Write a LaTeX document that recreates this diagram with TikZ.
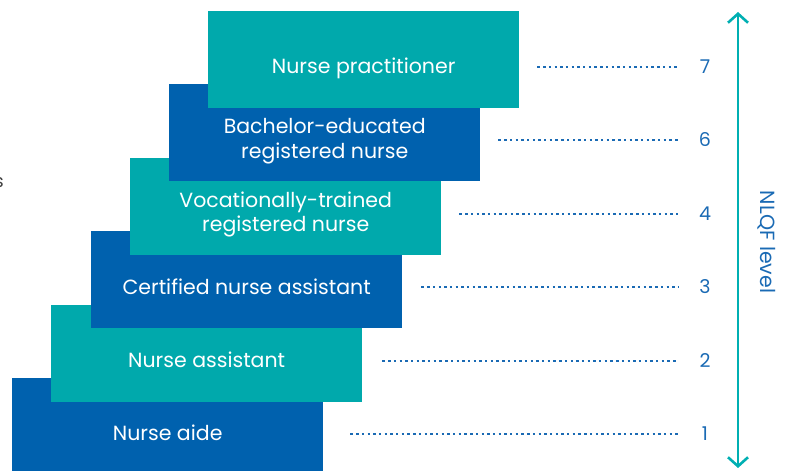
\documentclass[tikz,border=0pt]{standalone}
\usepackage{fontspec}
\setmainfont{Poppins}
\usetikzlibrary{arrows.meta}
\definecolor{tealc}{HTML}{00A9AC}
\definecolor{bluec}{HTML}{0061AE}
\definecolor{numc}{HTML}{1A6AB4}
\definecolor{arrc}{HTML}{00AFB2}
\tikzset{
  stairbox/.style={fill=#1, draw=none, minimum width=311pt, minimum height=97pt, inner sep=0pt, anchor=north west},
  boxtext/.style={text=white, align=center, font=\fontsize{20.5}{24.5}\selectfont, inner sep=0pt},
  numtext/.style={text=numc, font=\fontsize{19}{22}\selectfont, inner sep=0pt},
  dotline/.style={draw=numc, line width=2.4pt, dash pattern=on 2.4pt off 3.3pt},
}
\begin{document}
\begin{tikzpicture}[x=1pt,y=1pt]
\useasboundingbox (0,0) rectangle (787,471);
\node[text=black!75, font=\fontsize{18}{22}\selectfont, anchor=east, inner sep=0pt] (cut) at (4,288) {s};
% boxes (bottom to top)
\node[stairbox=bluec] (b1) at (12,93) {};
\node[stairbox=tealc] (b2) at (51,166) {};
\node[stairbox=bluec] (b3) at (91,240) {};
\node[stairbox=tealc] (b4) at (130,313) {};
\node[stairbox=bluec] (b5) at (169,387) {};
\node[stairbox=tealc] (b6) at (208,460) {};
\foreach \i/\t/\g/\d in {1/{Nurse aide}/27/55,2/{Nurse assistant}/20/55,3/{Certified nurse assistant}/19/55.5,4/{Vocationally-trained\\registered nurse}/18/56.5,5/{Bachelor-educated\\registered nurse}/18/57,6/{Nurse practitioner}/18/57}{
  \node[boxtext] (t\i) at ([yshift=-\d pt]b\i.north) {\t};
  \coordinate (s\i) at ([xshift=\g pt,yshift=-56pt]b\i.north east);
}
\foreach \i/\n in {1/1,2/2,3/3,4/4,5/6,6/7}{
  \node[numtext] (n\i) at (705,0 |- s\i) {\n};
  \coordinate (e\i) at (678,0 |- s\i);
  \draw[dotline] (s\i) -- (e\i);
}
\coordinate (atop) at (738,459);
\coordinate (abot) at (738,3);
\draw[draw=arrc, line width=2.6pt, {Straight Barb[length=9pt,width=20pt]}-{Straight Barb[length=9pt,width=20pt]}] (abot) -- (atop);
\node[text=numc, rotate=-90, font=\fontsize{20.5}{24}\selectfont, inner sep=0pt] (lvl) at (767,229) {NLQF level};
\end{tikzpicture}
\end{document}
